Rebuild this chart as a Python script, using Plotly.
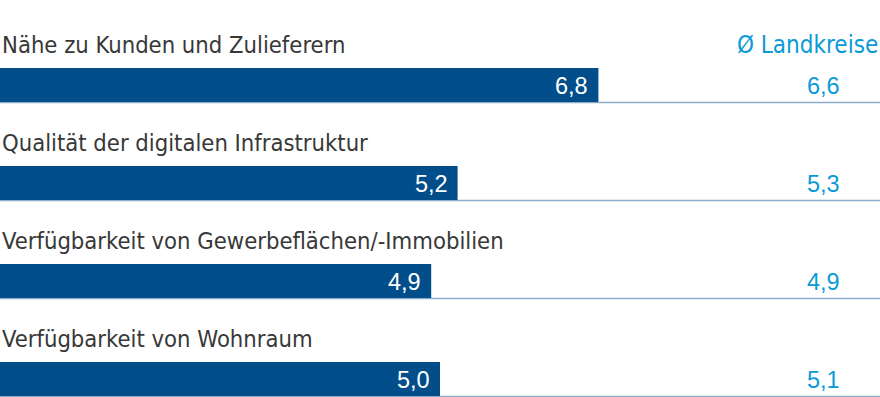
import plotly.graph_objects as go

categories = ["Nähe zu Kunden und Zulieferern",
              "Qualität der digitalen Infrastruktur",
              "Verfügbarkeit von Gewerbeflächen/-Immobilien",
              "Verfügbarkeit von Wohnraum"]
values = [6.8, 5.2, 4.9, 5.0]
landkreise = [6.6, 5.3, 4.9, 5.1]
header = "Ø Landkreise"

def fmt(v):
    return f"{v:.1f}".replace(".", ",")

W, H = 880, 397
row0 = 85       # first bar center (px)
step = 98       # row spacing (px)
bar_h = 34
ys = [row0 + i * step for i in range(len(categories))]

bar_color = "#024e8b"
light = "#0a9ad6"
line_color = "#8dabcb"
label_font = "DejaVu Sans Condensed"
num_font = "Liberation Sans"

fig = go.Figure()

# underline for each row
for y in ys:
    fig.add_shape(type="line", xref="x", yref="y", x0=0, x1=10,
                  y0=y + bar_h / 2 + 0.5, y1=y + bar_h / 2 + 0.5,
                  line=dict(color=line_color, width=1.5), layer="below")

fig.add_trace(go.Bar(
    x=values, y=ys, orientation="h", width=bar_h,
    marker=dict(color=bar_color, line=dict(width=0)),
    hoverinfo="skip",
))

for y, cat, v, lk in zip(ys, categories, values, landkreise):
    fig.add_annotation(x=0, y=y - 40, text=cat, xref="x", yref="y",
                       xanchor="left", yanchor="middle", showarrow=False,
                       font=dict(size=23.6, color="#383838", family=label_font))
    fig.add_annotation(x=v, y=y + 1, text=fmt(v), xref="x", yref="y",
                       xanchor="right", yanchor="middle", showarrow=False,
                       xshift=-8,
                       font=dict(size=23.5, color="white", family=num_font))
    fig.add_annotation(x=9.36, y=y + 1, text=fmt(lk), xref="x", yref="y",
                       xanchor="center", yanchor="middle", showarrow=False,
                       font=dict(size=23.5, color=light, family=num_font))

fig.add_annotation(x=10, y=ys[0] - 40, text=header, xref="x", yref="y",
                   xanchor="right", yanchor="middle", showarrow=False,
                   font=dict(size=24, color=light, family=label_font))

fig.update_layout(
    width=W, height=H, margin=dict(l=0, r=0, t=0, b=0),
    plot_bgcolor="white", paper_bgcolor="white", showlegend=False,
    xaxis=dict(range=[0, 10], visible=False, fixedrange=True),
    yaxis=dict(range=[H, 0], visible=False, fixedrange=True),
)

fig.write_html("out.html", config={"displayModeBar": False},
               post_script="document.body.style.margin='0px';")
